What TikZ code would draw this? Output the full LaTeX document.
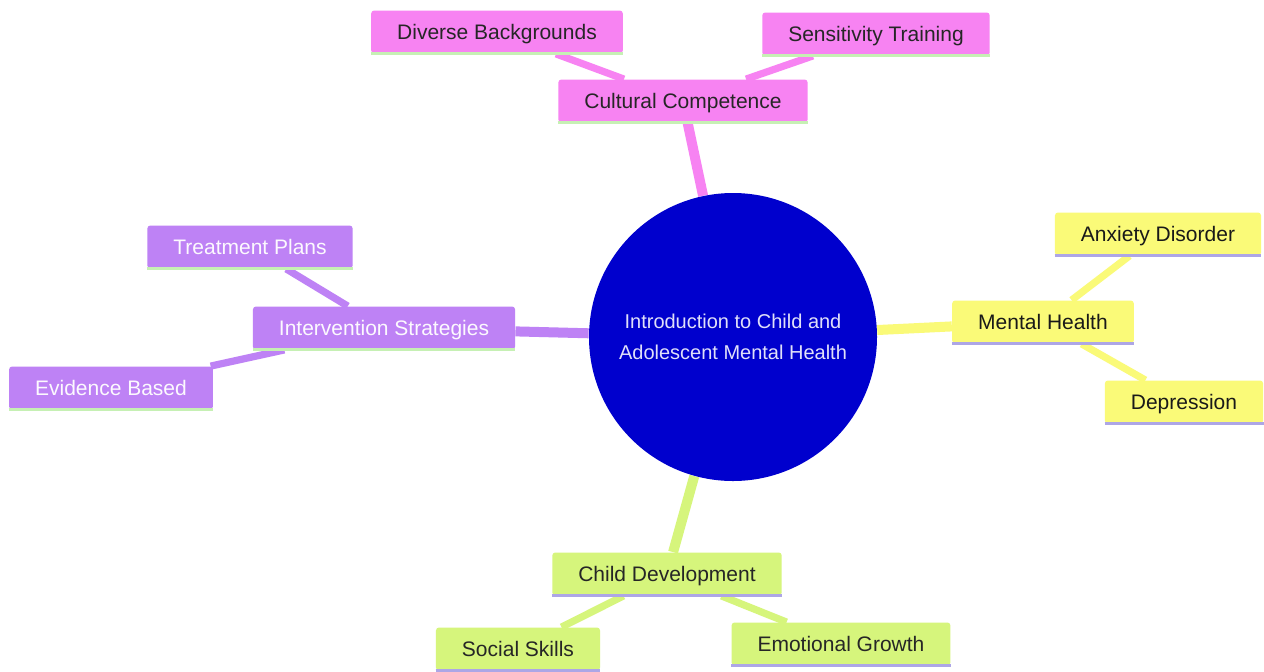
\documentclass[tikz,border=0pt]{standalone}
\usepackage{fontspec}
\setmainfont{Liberation Sans}
\usetikzlibrary{positioning, backgrounds}

\definecolor{pinkfill}{HTML}{F783F2}
\definecolor{yellowfill}{HTML}{FAFA78}
\definecolor{purplefill}{HTML}{BE82F5}
\definecolor{greenfill}{HTML}{D6F57C}
\definecolor{rootblue}{HTML}{0000CD}
\definecolor{mintline}{HTML}{C6F0B4}
\definecolor{lilacline}{HTML}{ADA6E6}

\tikzset{
    topic/.style={rectangle, rounded corners=1.5pt, inner xsep=13pt, inner ysep=0pt,
        minimum height=21.5pt, text height=7.2pt, text depth=0pt,
        font=\fontsize{10.5}{12}\selectfont},
    pinktopic/.style={topic, fill=pinkfill, text=black!85},
    yellowtopic/.style={topic, fill=yellowfill, text=black!90},
    purpletopic/.style={topic, fill=purplefill, text=white!95!purplefill},
    greentopic/.style={topic, fill=greenfill, text=black!85},
    root/.style={circle, fill=rootblue, minimum size=144pt, inner sep=0pt, align=center,
        text=white!88!rootblue, font=\fontsize{10}{15.5}\selectfont},
    trunk/.style={line width=5pt},
    twig/.style={line width=3.6pt},
    baseline/.style={line width=1.5pt}
}

\begin{document}
\begin{tikzpicture}[x=0.5pt, y=-0.5pt]
    \useasboundingbox (0,0) rectangle (1264,671);
    % centre
    \node[root] (intro) at (733,337) {Introduction to Child and\\Adolescent Mental Health};
    % branches
    \node[pinktopic] (cultural) at (683,101) {Cultural Competence};
    \node[pinktopic] (diverse) at (497,32) {Diverse Backgrounds};
    \node[pinktopic] (sensitivity) at (876,34) {Sensitivity Training};
    \node[yellowtopic] (mental) at (1043,322) {Mental Health};
    \node[yellowtopic] (anxiety) at (1158,234) {Anxiety Disorder};
    \node[yellowtopic] (depression) at (1184,402) {Depression};
    \node[purpletopic] (intervention) at (384,328) {Intervention Strategies};
    \node[purpletopic] (treatment) at (250,247) {Treatment Plans};
    \node[purpletopic] (evidence) at (111,388) {Evidence Based};
    \node[greentopic] (childdev) at (667,574) {Child Development};
    \node[greentopic] (social) at (518,649) {Social Skills};
    \node[greentopic] (emotional) at (841,644) {Emotional Growth};

    % underlines
    \foreach \n in {cultural, diverse, sensitivity, intervention, treatment, evidence}
        \draw[baseline, mintline] (\n.south west) -- (\n.south east);
    \foreach \n in {mental, anxiety, depression, childdev, social, emotional}
        \draw[baseline, lilacline] (\n.south west) -- (\n.south east);

    \begin{scope}[on background layer]
        \fill[white] (0,0) rectangle (1264,671);
        \draw[pinkfill] (intro) edge[trunk] (cultural)
                        (cultural) edge[twig] (diverse)
                        (cultural) edge[twig] (sensitivity);
        \draw[yellowfill] (intro) edge[trunk] (mental)
                          (mental) edge[twig] (anxiety)
                          (mental) edge[twig] (depression);
        \draw[purplefill] (intro) edge[trunk] (intervention)
                          (intervention) edge[twig] (treatment)
                          (intervention) edge[twig] (evidence);
        \draw[greenfill] (intro) edge[trunk] (childdev)
                         (childdev) edge[twig] (social)
                         (childdev) edge[twig] (emotional);
    \end{scope}
\end{tikzpicture}
\end{document}
